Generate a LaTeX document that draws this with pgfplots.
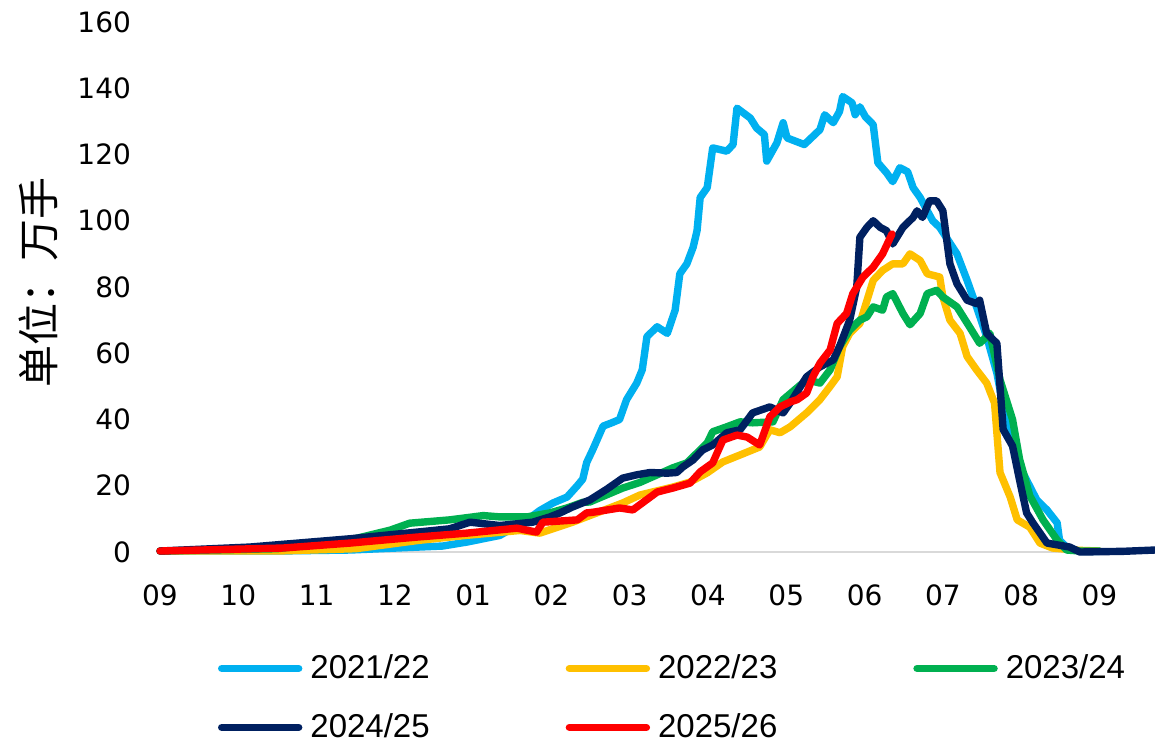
\documentclass[border=0pt]{standalone}
\usepackage{fontspec}
\setmainfont{DejaVu Sans}
\newfontfamily\legfont{Liberation Sans}
\newfontfamily\cjk{Noto Sans CJK SC}
\usepackage{pgfplots}
\pgfplotsset{compat=1.18}

\definecolor{cA}{HTML}{00B0F0}
\definecolor{cB}{HTML}{FFC000}
\definecolor{cC}{HTML}{00B050}
\definecolor{cD}{HTML}{002060}
\definecolor{cE}{HTML}{FF0000}
\definecolor{axgray}{HTML}{D9D9D9}

\begin{document}
\begin{tikzpicture}
\useasboundingbox (0,0) rectangle (577.5pt,372.5pt);
\begin{axis}[
    at={(80pt,96.5pt)}, anchor=south west,
    scale only axis, width=497.5pt, height=265pt,
    xmin=0, xmax=12.71, ymin=0, ymax=160,
    clip=false,
    xtick={0,...,12},
    xticklabels={09,10,11,12,01,02,03,04,05,06,07,08,09},
    ytick={0,20,...,160},
    /pgf/number format/assume math mode=true,
    tick label style={font=\fontsize{14}{16}\selectfont},
    xticklabel style={yshift=-13pt},
    yticklabel style={xshift=-11pt},
    major tick length=0pt,
    axis line style={draw=none},
    every axis plot/.append style={line width=3.7pt, line join=round, line cap=round, no markers},
    legend columns=3,
    legend cell align=left,
    legend image code/.code={\draw[#1, line width=3.7pt, line cap=round] (0pt,0pt) -- (38.5pt,0pt);},
    legend style={at={(rel axis cs:0,0)}, anchor=north west, xshift=29pt, yshift=-50pt,
        draw=none, fill=none, inner sep=0pt, outer sep=0pt,
        font=\legfont\fontsize{16.5}{18}\selectfont,
        nodes={inner sep=1.5pt},
        row sep=13pt,
        /tikz/every odd column/.append style={column sep=2.5pt},
        /tikz/every even column/.append style={column sep=66.5pt}},
]
\draw[axgray, line width=1.2pt] (rel axis cs:0,0) -- (rel axis cs:1,0);

% 2021/22
\addplot[cA] coordinates {
(0,0.3) (1.49,0.3) (2.43,0.6) (3.61,1.8) (3.92,3) (4.34,5) (4.69,9.7) (4.85,12.5)
(5.02,14.8) (5.20,16.6) (5.33,20) (5.40,22) (5.45,27) (5.53,31) (5.66,38) (5.77,39)
(5.87,40) (5.96,46) (6.09,51) (6.16,55) (6.22,65) (6.35,68) (6.48,66) (6.58,73)
(6.64,84) (6.73,87) (6.81,92) (6.86,97) (6.90,107) (6.99,110) (7.06,122) (7.24,121)
(7.32,123) (7.37,134) (7.54,131) (7.62,128) (7.72,126) (7.75,118) (7.88,123.5)
(7.96,129.6) (8.01,125) (8.23,123) (8.43,127.5) (8.49,132) (8.60,129.6) (8.68,133)
(8.72,137.5) (8.84,135.6) (8.88,132) (8.94,134.4) (9.01,131.4) (9.11,129) (9.17,117.5)
(9.28,114.5) (9.36,111.8) (9.45,116) (9.55,114.8) (9.62,110) (9.71,107) (9.87,100)
(9.96,98) (10.18,90) (10.31,82) (10.43,74) (10.56,65) (10.69,54) (10.77,44) (10.89,32)
(11.02,24) (11.20,15.7) (11.33,12.7) (11.46,8.8) (11.49,3.6) (11.58,1.5) (11.75,0.2) (12.0,0.2)
};
\addlegendentry{2021/22}

% 2022/23
\addplot[cB] coordinates {
(0,0.3) (1.5,0.3) (2.5,1) (3.3,3.5) (3.9,5) (4.6,6.5) (4.85,5.7) (5.27,9) (5.91,14.8)
(6.13,17.2) (6.55,19.6) (6.77,21.1) (6.99,23.9) (7.19,27.2) (7.41,29.3) (7.66,31.7)
(7.79,36.9) (7.92,36) (8.05,37.8) (8.26,42) (8.43,46) (8.56,50) (8.65,52.9) (8.72,62)
(8.81,66) (8.94,69) (9.11,82) (9.23,85) (9.36,87) (9.49,87) (9.58,90) (9.71,88)
(9.80,84) (9.96,83) (10.00,77) (10.09,70) (10.22,66) (10.31,59) (10.43,55) (10.56,51)
(10.66,45) (10.73,24) (10.86,16.6) (10.95,9.7) (11.11,7.5) (11.24,2.7) (11.40,1.2)
(11.75,0.5) (12.0,0.3)
};
\addlegendentry{2022/23}

% 2023/24
\addplot[cC] coordinates {
(0,0.3) (1.5,1) (2.4,3.5) (2.94,6.6) (3.19,8.7) (3.70,9.7) (4.13,11) (4.34,10.6)
(4.69,10.6) (4.98,11.8) (5.20,13.3) (5.40,15) (5.49,15.1) (5.91,19.3) (6.13,21)
(6.35,23.3) (6.55,25.4) (6.73,26.9) (6.99,32.9) (7.06,36.3) (7.24,37.8) (7.41,39.3)
(7.57,39) (7.83,39.3) (7.96,46) (8.26,52) (8.43,51) (8.56,55) (8.68,62) (8.81,67)
(8.94,70) (9.03,71) (9.11,74) (9.23,73) (9.28,77) (9.36,78) (9.49,72) (9.58,68.6)
(9.71,72) (9.80,78) (9.92,79) (10.00,77) (10.18,74) (10.34,68) (10.47,63) (10.60,66)
(10.73,52) (10.89,40) (10.98,28) (11.11,17) (11.28,9.7) (11.46,3.6) (11.58,0.6)
(11.75,0.3) (12.0,0.3)
};
\addlegendentry{2023/24}

% 2024/25
\addplot[cD] coordinates {
(0,0.3) (1.15,1.5) (2.43,4) (2.85,5) (3.28,6) (3.70,7) (3.96,9) (4.34,8) (4.76,9)
(4.98,10.6) (5.11,11.8) (5.27,13.6) (5.49,15.7) (5.71,19) (5.91,22.3) (6.09,23.3)
(6.26,24) (6.48,23.8) (6.60,24) (6.68,25.7) (6.81,27.8) (6.93,30.8) (7.06,32.3)
(7.24,36) (7.41,36.9) (7.57,42) (7.79,43.8) (7.96,42) (8.05,45) (8.26,52.9)
(8.43,55.9) (8.60,58) (8.68,62) (8.81,70) (8.90,80) (8.94,95) (9.03,98) (9.11,100)
(9.20,98) (9.28,97) (9.36,93) (9.49,98) (9.62,101) (9.67,103) (9.74,101) (9.83,106)
(9.92,106) (10.00,103) (10.09,87) (10.18,81) (10.31,76) (10.43,75) (10.47,76)
(10.56,66) (10.69,63) (10.77,37) (10.89,32) (10.98,21.7) (11.07,11.8) (11.15,8.8)
(11.33,2.7) (11.62,1.5) (11.75,0) (12.3,0.2) (12.71,0.6)
};
\addlegendentry{2024/25}

% 2025/26
\addplot[cE] coordinates {
(0,0.3) (1.57,1.2) (2.43,2.7) (2.85,3.6) (3.28,4.5) (3.92,5.7) (4.56,7.2) (4.81,6)
(4.89,9) (5.33,9.7) (5.45,11.8) (5.53,12) (5.87,13.3) (6.04,12.7) (6.35,18.1)
(6.55,19.3) (6.77,20.8) (6.90,24.2) (7.06,26.9) (7.19,33.8) (7.37,35.3) (7.50,34.7)
(7.66,32.3) (7.79,40.8) (7.92,43.8) (8.05,45.3) (8.14,46) (8.26,48) (8.34,52.9)
(8.43,57) (8.56,61) (8.65,69) (8.77,72) (8.85,78) (8.98,83) (9.11,86) (9.23,90)
(9.35,96)
};
\addlegendentry{2025/26}
\end{axis}
% axis title, set apart from the plot as in the source chart
\node[rotate=90, font=\cjk\fontsize{21}{23}\selectfont] at (19pt,231.5pt) {单位：万手};
\end{tikzpicture}
\end{document}
